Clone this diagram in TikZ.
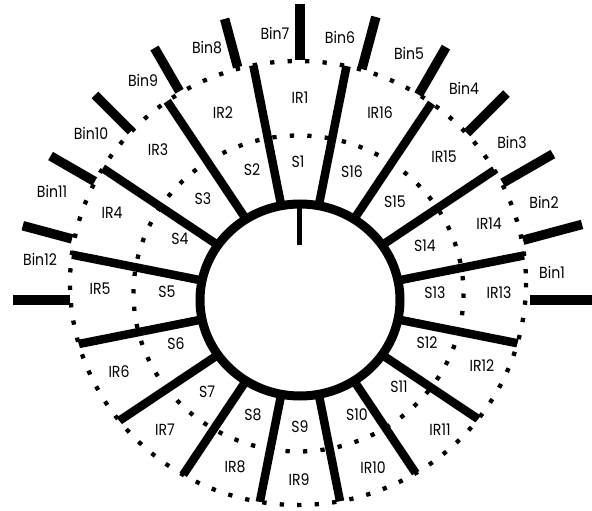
\documentclass[tikz,border=0pt]{standalone}
\usepackage{fontspec}
\setmainfont{Poppins}
\begin{document}
\begin{tikzpicture}[x=1pt,y=-1pt,
  lab/.style={font=\fontsize{16}{16}\selectfont, inner sep=0pt, anchor=center},
  spoke/.style={line width=8.5pt},
  binbar/.style={line width=9.5pt},
  dots/.style={line width=4.3pt, dash pattern=on 4.3pt off 13.2pt},
  hub/.style={line width=9pt}]
\useasboundingbox (0,0) rectangle (592,511);
\coordinate (C) at (300,300);
\coordinate (M) at (298.5,293.5);
\coordinate (O) at (298,283);
% dotted rings
\draw[dots] (M) ellipse [x radius=165, y radius=158];
\draw[dots] (O) ellipse [x radius=228, y radius=222];
% spokes, clipped at the outer ring
\begin{scope}
  \clip (O) ellipse [x radius=228, y radius=222];
  \foreach \a in {11.25,33.75,...,360}
    \draw[spoke] ([shift={(-\a:97)}]C) -- ([shift={(-\a:320)}]C);
\end{scope}
% bin separators
\foreach \a/\ri/\ro in {0/230/300,15/231/292,30/234/292,45/236/292,60/237/292,75/239/293,90/240/296,105/241/291,120/241/291,135/239/290,150/237/288,165/236/287,180/230/287}
  \draw[binbar] ([shift={(-\a:\ri)}]C) -- ([shift={(-\a:\ro)}]C);
% hub
\draw[hub] (C) ellipse [x radius=100, y radius=96];
\draw[line width=5.5pt] (299.5,204) -- (299.5,245);
% labels
\foreach \t/\x/\y in {Bin1/552/272,Bin2/544/202,Bin3/512/142,Bin4/464/88,Bin5/409/53,Bin6/340/37,Bin7/275/33,Bin8/207/48,Bin9/143/80,Bin10/91/133,Bin11/52/191,Bin12/40/259,
  IR1/300/98,IR2/223/113,IR3/158/150,IR4/112/213,IR5/100/289,IR6/119/372,IR7/165/430,IR8/235/467,IR9/299/480,IR10/373/468,IR11/440/430,IR12/482/366,IR13/499/293,IR14/489/224,IR15/444/157,IR16/380/113,
  S1/298/162,S2/252/170,S3/203/199,S4/180/239,S5/167/292,S6/176/344,S7/207/392,S8/253/415,S9/300/427,S10/357/415,S11/399/387,S12/427/343,S13/435/293,S14/425/246,S15/395/202,S16/352/172}
  \node[lab] (\t) at (\x,\y) {\scalebox{0.88}[1]{\t}};
\end{tikzpicture}
\end{document}
